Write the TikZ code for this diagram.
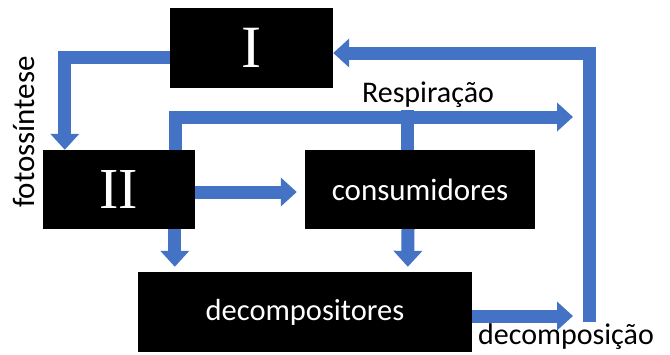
\documentclass[tikz,border=0pt]{standalone}
\usepackage{fontspec}
\setmainfont{Carlito}
\newfontfamily\romfont{Liberation Serif}
\usetikzlibrary{arrows.meta,calc}
\definecolor{flow}{RGB}{68,114,196}
\begin{document}
\begin{tikzpicture}[x=1pt,y=-1pt,
  blk/.style={fill=black,draw=none,inner sep=0pt,text=white},
  arr/.style={draw=flow,line width=13pt,line join=miter,-{Triangle[width=28pt,length=16pt]}},
  bar/.style={draw=flow,line width=13pt,line join=miter},
  lbl/.style={inner sep=0pt,font=\fontsize{30}{32}\selectfont}]
\path[use as bounding box] (0,0) rectangle (670,354);
\node[blk,minimum width=163pt,minimum height=80pt,font=\romfont\fontsize{60}{60}\selectfont] (I) at (251.5,48) {I};
\node[blk,minimum width=152pt,minimum height=79pt,font=\romfont\fontsize{58}{58}\selectfont] (II) at (119,189.5) {II};
\node[blk,minimum width=230pt,minimum height=79pt,font=\fontsize{31}{32}\selectfont] (cons) at (420,189.5) {consumidores};
\node[blk,minimum width=334pt,minimum height=80pt,font=\fontsize{30.5}{32}\selectfont] (dec) at (305,312) {decompositores};
\coordinate (r) at (589,322);
\coordinate (resp) at (573,117);
\coordinate (dout) at (573,316);
% fotossintese
\draw[arr] ([yshift=-9pt]I.west) -| ($(II.north west)+(22,0)$);
% decomposicao return
\draw[arr] (r) |- ([yshift=-5pt]I.east);
% respiracao
\draw[arr] ($(II.north west)+(133,0)$) |- (resp);
\draw[bar] ([xshift=-13pt]cons.north) -- ([xshift=-13pt,yshift=39.5pt]cons.north);
% II to consumidores
\draw[arr,shorten >=8pt] ([yshift=-2.5pt]II.east) -- ([yshift=-2.5pt]cons.west);
% II to decompositores
\draw[arr,shorten >=5pt] ($(II.south west)+(132,0)$) -- ($(dec.north west)+(37,0)$);
% consumidores to decompositores
\draw[arr,shorten >=5pt] ([xshift=-12pt]cons.south) -- ($(dec.north west)+(270,0)$);
% decompositores out
\draw[arr] ([yshift=-4pt]dec.east) -- (dout);
\node[lbl] (lr) at (428,95) {Respiração};
\node[lbl] (ld) at (566,337) {decomposição};
\node[lbl,rotate=90,font=\fontsize{31}{32}\selectfont] (lf) at (24,132) {fotossíntese};
\end{tikzpicture}
\end{document}
